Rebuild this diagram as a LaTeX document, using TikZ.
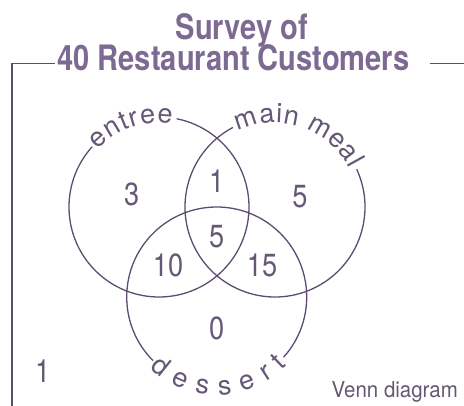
\documentclass[tikz,border=0pt]{standalone}
\usepackage{fontspec}
\usetikzlibrary{calc,decorations.text}

% Faces derived from TeX Gyre Heros
\newfontfamily\headfont[FakeStretch=0.83]{TeX Gyre Heros}
\newfontfamily\lblfont[FakeStretch=0.85]{TeX Gyre Heros}
\newfontfamily\notefont[FakeStretch=0.93]{TeX Gyre Heros}
\newfontfamily\curvefont{TeX Gyre Heros}
\newcommand\setarcfont{\curvefont\fontsize{27}{27}\selectfont}

\definecolor{ink}{HTML}{645876}
\definecolor{headink}{HTML}{7D6A92}
\definecolor{rulecol}{HTML}{5B4C70}

\tikzset{
  setline/.style={draw=rulecol, line width=1.3pt},
  frameline/.style={draw=rulecol, line width=1.8pt},
  count/.style={text=ink, font=\lblfont\fontsize{32}{32}\selectfont, inner sep=0pt},
  head/.style={text=headink, font=\headfont\bfseries\fontsize{35}{35}\selectfont, inner sep=0pt, anchor=base},
  note/.style={text=ink, font=\notefont\fontsize{22}{22}\selectfont, inner sep=0pt, anchor=base east},
  arclabel/.style={decorate, decoration={text along path, text align=fit to path,
      text={|\setarcfont\color{ink}|#1}}}
}

\begin{document}
\begin{tikzpicture}[x=1pt, y=1pt]
  \useasboundingbox (0,0) rectangle (464,405);

  % heading
  \node[head] (title1) at (241.7,365) {Survey of};
  \node[head] (title2) at (233.5,334) {40 Restaurant Customers};

  % open frame hanging from the heading
  \draw[frameline] (12,-2) -- (12,341.5) -- (55,341.5);
  \draw[frameline] (430,341.5) -- (466,341.5);

  % circle centres
  \coordinate (E) at (159,198);
  \coordinate (M) at (275,198);
  \coordinate (D) at (216.7,108);

  % circles, each broken where its name runs along it
  \draw[setline] ($(E)+(138:90pt)$) arc[start angle=138, end angle=438.7, radius=90pt];
  \draw[setline] ($(M)+(117.9:90pt)$) arc[start angle=117.9, end angle=384.8, radius=90pt];
  \draw[setline] ($(D)+(-42:90pt)$) arc[start angle=-42, end angle=225, radius=90pt];

  % set names along the circles
  \path[arclabel={entree}] ($(E)+(137:84pt)$) arc[start angle=137, end angle=81, radius=84pt];
  \path[arclabel={main meal}] ($(M)+(116:84pt)$) arc[start angle=116, end angle=27, radius=84pt];
  \path[arclabel={dessert}] ($(D)+(227:98pt)$) arc[start angle=227, end angle=316, radius=98pt];

  % region counts
  \node[count] (eonly) at (131.7,211) {3};
  \node[count] (em)    at (216.7,224) {1};
  \node[count] (monly) at (300,208)   {5};
  \node[count] (all)   at (216.7,168.3) {5};
  \node[count] (ed)    at (168,140)   {10};
  \node[count] (md)    at (262,140)   {15};
  \node[count] (donly) at (216.7,77)  {0};
  \node[count] (none)  at (42.7,34)   {1};

  \node[note] (caption) at (458,8) {Venn diagram};
\end{tikzpicture}
\end{document}
